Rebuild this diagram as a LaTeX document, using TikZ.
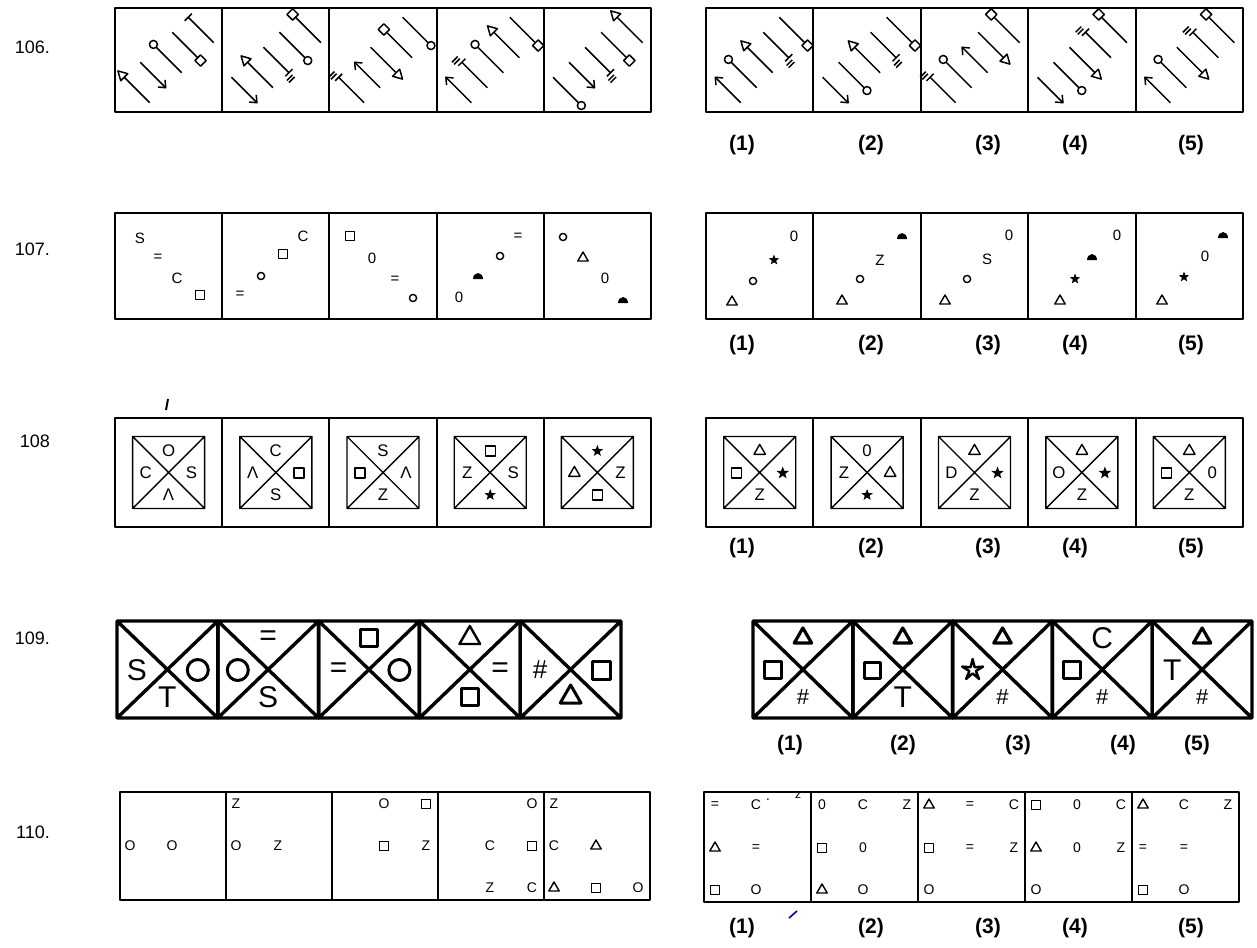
\documentclass[tikz,border=0pt]{standalone}
\usepackage{fontspec}
\setmainfont{Liberation Sans}
\usetikzlibrary{shapes.geometric}

% Marcas en los extremos de las varillas (fila 106).
\newcommand\mkc[1]{\draw (#1*22,0) circle[radius=4];}
\newcommand\mkq[1]{\draw (#1*18,-4) rectangle (#1*26,4);}
\newcommand\mkt[1]{\draw (#1*18,-5) -- (#1*27,0) -- (#1*18,5) -- cycle;}
\newcommand\mka[1]{\draw (#1*12,-5) -- (#1*18,0) -- (#1*12,5);}
\newcommand\mkb[1]{\draw (#1*18,-5) -- (#1*18,5);}
\newcommand\mkd[1]{\draw (#1*18,-5) -- (#1*18,5) (#1*22,-1) -- (#1*22,7) (#1*25,-1) -- (#1*25,7);}
\newcommand\rodcell[2]{%
  \foreach \m/\e [count=\k from 0] in {#2} {
    \begin{scope}[shift={({#1+22+16*\k},{90-15*\k})},rotate=-45]
      \draw (-18,0) -- (18,0);
      \csname mk\m\endcsname{\e}
    \end{scope}}}
% Celda con cuadro y diagonales (fila 108).
\newcommand\xcell[5]{%
  \draw[innerln] (#1-36,436.5) rectangle (#1+36,508.5)
    (#1-36,436.5) -- (#1+36,508.5) (#1-36,508.5) -- (#1+36,436.5);
  \node at (#1,451) #2; \node at (#1-23,473) #3;
  \node at (#1+23,473) #4; \node at (#1,495) #5;}
% Celda con aspa de esquina a esquina (fila 109).
\newcommand\bigxcell[6]{%
  \draw[heavyln] (#1,621) rectangle (#2,718) (#1,621) -- (#2,718) (#1,718) -- (#2,621);
  \node at ({(#1+#2)/2},638) #3; \node at (#1+20,670) #4;
  \node at (#2-20,670) #5; \node at ({(#1+#2)/2},697) #6;}

\begin{document}
\begin{tikzpicture}[x=.5pt,y=-.5pt,line join=round,
    boxln/.style={line width=1pt},
    rodln/.style={line width=.75pt},
    innerln/.style={line width=.7pt},
    heavyln/.style={line width=1.7pt},
    ltr/.style={inner sep=0pt,font=\fontsize{#1}{#1}\selectfont},
    sqr/.style={draw,minimum size=#1,inner sep=0pt,line width=.7pt},
    tri/.style={draw,regular polygon,regular polygon sides=3,minimum size=#1,inner sep=0pt,line width=.7pt},
    starf/.style={star,star points=5,star point ratio=2.4,fill,minimum size=#1,inner sep=0pt},
    ring/.style={draw,circle,minimum size=#1,inner sep=0pt,line width=.7pt},
    num/.style={font=\fontsize{10.5}{12}\selectfont\bfseries},
    rowno/.style={anchor=east,font=\fontsize{9}{11}\selectfont},
    dome/.pic={\fill (5,3) arc[start angle=0,end angle=-180,x radius=5,y radius=6] -- cycle;}]
    \fill[white] (0,0) rectangle (1257,947);
    \useasboundingbox (0,0) rectangle (1257,947);

    % Números de los ejercicios.
    \node[rowno] (n106) at (57,47) {106.};
    \node[rowno] (n107) at (57,249) {107.};
    \node[rowno] (n108) at (57,441) {108};
    \node[rowno] (n109) at (57,638) {109.};
    \node[rowno] (n110) at (57,832) {110.};

    % Rótulos de las respuestas.
    \foreach \y in {145,345,548,928} {
        \foreach \x [count=\i] in {742,871,988,1075,1191}
            \node[num] at (\x,\y) {(\i)};
    }
    \foreach \x [count=\i] in {790,903,1018,1123,1197}
        \node[num] at (\x,745) {(\i)};

    % Fila 106: varillas con marcas.
    \draw[boxln] (115,8) rectangle (651,112) (706,8) rectangle (1243,112);
    \foreach \i in {1,...,4} {
        \draw[boxln] ({115+107.2*\i},8) -- ++(0,104);
        \draw[boxln] ({706+107.4*\i},8) -- ++(0,104);
    }
    \begin{scope}[rodln]
    \rodcell{115}{t/-1,a/1,c/-1,q/1,b/-1}
    \rodcell{222.2}{a/1,t/-1,d/1,c/1,q/-1}
    \rodcell{329.4}{d/-1,a/-1,t/1,q/-1,c/1}
    \rodcell{436.6}{a/-1,d/-1,c/-1,t/-1,q/1}
    \rodcell{543.8}{c/1,a/1,d/1,q/1,t/-1}
    \rodcell{706}{a/-1,c/-1,t/-1,d/1,q/1}
    \rodcell{813.4}{a/1,c/1,t/-1,d/1,q/1}
    \rodcell{920.8}{d/-1,c/-1,a/-1,t/1,q/-1}
    \rodcell{1028.2}{a/1,c/1,t/1,d/-1,q/-1}
    \rodcell{1135.6}{a/-1,c/-1,t/1,d/-1,q/-1}
    \end{scope}

    % Fila 107: símbolos en diagonal.
    \draw[boxln] (115,213) rectangle (651,319) (706,213) rectangle (1243,319);
    \foreach \i in {1,...,4} {
        \draw[boxln] ({115+107.2*\i},213) -- ++(0,106);
        \draw[boxln] ({706+107.4*\i},213) -- ++(0,106);
    }
    \begin{scope}[every node/.style={ltr=7.5pt}]
    \node at (140,238) {S}; \node at (158,258) {=}; \node at (177,278) {C};
    \node[sqr=4.5pt] at (200,295) {};
    \node at (240,295) {=}; \node[ring=3.6pt] at (261,276) {};
    \node[sqr=4.5pt] at (283,254) {}; \node at (303,236) {C};
    \node[sqr=4.5pt] at (350,236) {}; \node at (372,258) {0};
    \node at (395,280) {=}; \node[ring=3.6pt] at (413,298) {};
    \node at (459,297) {0}; \pic at (478,276) {dome};
    \node[ring=3.6pt] at (500,256) {}; \node at (518,237) {=};
    \node[ring=3.6pt] at (563,237) {}; \node[tri=6pt] at (583,258) {};
    \node at (605,278) {0}; \pic at (623,300) {dome};
    % respuestas
    \node[tri=6pt] at (732,302) {}; \node[ring=3.6pt] at (753,281) {};
    \node[starf=5.5pt] at (774,260) {}; \node at (794,236) {0};
    \node[tri=6pt] at (842,301) {}; \node[ring=3.6pt] at (860,279) {};
    \node at (880,260) {Z}; \pic at (902,236) {dome};
    \node[tri=6pt] at (945,301) {}; \node[ring=3.6pt] at (967,279) {};
    \node at (987,259) {S}; \node at (1009,235) {0};
    \node[tri=6pt] at (1060,301) {}; \node[starf=5.5pt] at (1075,279) {};
    \pic at (1092,257) {dome}; \node at (1117,235) {0};
    \node[tri=6pt] at (1162,301) {}; \node[starf=5.5pt] at (1184,277) {};
    \node at (1205,256) {0}; \pic at (1223,235) {dome};
    \end{scope}

    % Fila 108: cuadros con diagonales.
    \draw[boxln] (115,418) rectangle (651,527) (706,418) rectangle (1243,527);
    \foreach \i in {1,...,4} {
        \draw[boxln] ({115+107.2*\i},418) -- ++(0,109);
        \draw[boxln] ({706+107.4*\i},418) -- ++(0,109);
    }
    \draw[line width=1pt] (168,399) -- (166,410);
    \begin{scope}[every node/.style={ltr=8.4pt}]
    \xcell{168.6}{{O}}{{C}}{{S}}{{Λ}}
    \xcell{275.8}{{C}}{{Λ}}{[sqr=5pt]{}}{{S}}
    \xcell{383}{{S}}{[sqr=5pt]{}}{{Λ}}{{Z}}
    \xcell{490.2}{[sqr=5pt]{}}{{Z}}{{S}}{[starf=6pt]{}}
    \xcell{597.4}{[starf=6pt]{}}{[tri=6.6pt]{}}{{Z}}{[sqr=5pt]{}}
    \xcell{759.7}{[tri=6.6pt]{}}{[sqr=5pt]{}}{[starf=6.5pt]{}}{{Z}}
    \xcell{867.1}{{0}}{{Z}}{[tri=6.6pt]{}}{[starf=6pt]{}}
    \xcell{974.5}{[tri=6.6pt]{}}{{D}}{[starf=6.5pt]{}}{{Z}}
    \xcell{1081.9}{[tri=6.6pt]{}}{{O}}{[starf=6.5pt]{}}{{Z}}
    \xcell{1189.3}{[tri=6.6pt]{}}{[sqr=5pt]{}}{{0}}{{Z}}
    \end{scope}

    % Fila 109: aspas gruesas.
    \begin{scope}[every node/.style={ltr=15pt}]
    \bigxcell{117}{217.8}{{}}{{S}}{[ring=10.5pt,line width=1.5pt]{}}{{T}}
    \bigxcell{217.8}{318.6}{{=}}{[ring=10.5pt,line width=1.5pt]{}}{{}}{{S}}
    \bigxcell{318.6}{419.4}{[sqr=8.5pt,line width=1.5pt]{}}{{=}}{[ring=10.5pt,line width=1.5pt]{}}{{}}
    \bigxcell{419.4}{520.2}{[tri=12pt,line width=1.2pt]{}}{{}}{{=}}{[sqr=8.5pt,line width=1.5pt]{}}
    \bigxcell{520.2}{621}{{}}{[ltr=13pt]{\#}}{[sqr=9pt,line width=1.5pt]{}}{[tri=12pt,line width=1.5pt]{}}
    \bigxcell{753}{852.8}{[tri=10pt,line width=1.6pt]{}}{[sqr=8.5pt,line width=1.5pt]{}}{{}}{[ltr=11pt]{\#}}
    \bigxcell{852.8}{952.6}{[tri=10pt,line width=1.6pt]{}}{[sqr=8pt,line width=1.5pt]{}}{{}}{{T}}
    \bigxcell{952.6}{1052.4}{[tri=10pt,line width=1.6pt]{}}{[star,star points=5,star point ratio=3.2,draw,line width=1.2pt,minimum size=11pt]{}}{{}}{[ltr=11pt]{\#}}
    \bigxcell{1052.4}{1152.2}{{C}}{[sqr=8.5pt,line width=1.5pt]{}}{{}}{[ltr=11pt]{\#}}
    \bigxcell{1152.2}{1252}{[tri=10pt,line width=1.6pt]{}}{{T}}{{}}{[ltr=11pt]{\#}}
    \end{scope}

    % Fila 110: símbolos en rejilla.
    \draw[boxln] (120,792) rectangle (650,900) (704,792) rectangle (1239,902);
    \foreach \i in {1,...,4} {
        \draw[boxln] ({120+106*\i},792) -- ++(0,108);
        \draw[boxln] ({704+107*\i},792) -- ++(0,110);
    }
    \draw[blue!70!black,line width=.8pt] (789,918) -- (797,911);
    \begin{scope}[every node/.style={ltr=7pt}]
    \node at (130,846) {O}; \node at (172,846) {O};
    \node at (236,804) {Z}; \node at (236,846) {O}; \node at (278,846) {Z};
    \node at (384,804) {O}; \node[sqr=4.5pt] at (426,804) {};
    \node[sqr=4.5pt] at (384,846) {}; \node at (426,846) {Z};
    \node at (532,804) {O}; \node at (490,846) {C}; \node[sqr=4.5pt] at (532,846) {};
    \node at (490,888) {Z}; \node at (532,888) {C};
    \node at (554,804) {Z}; \node at (554,846) {C}; \node[tri=6pt] at (596,846) {};
    \node[tri=6pt] at (554,888) {}; \node[sqr=4.5pt] at (596,888) {}; \node at (638,888) {O};
    % respuestas
    \node at (715,805) {=}; \node at (756,805) {C}; \node at (768,801) {·};
    \node[ltr=6pt] at (798,795) {z};
    \node[tri=6pt] at (715,848) {}; \node at (756,848) {=};
    \node[sqr=4.5pt] at (715,890) {}; \node at (756,890) {O};
    \node at (822,805) {0}; \node at (863,805) {C}; \node at (907,805) {Z};
    \node[sqr=4.5pt] at (822,848) {}; \node at (863,848) {0};
    \node[tri=6pt] at (822,890) {}; \node at (863,890) {O};
    \node[tri=6pt] at (929,805) {}; \node at (970,805) {=}; \node at (1014,805) {C};
    \node[sqr=4.5pt] at (929,848) {}; \node at (970,848) {=}; \node at (1014,848) {Z};
    \node at (929,890) {O};
    \node[sqr=4.5pt] at (1036,805) {}; \node at (1077,805) {0}; \node at (1121,805) {C};
    \node[tri=6pt] at (1036,848) {}; \node at (1077,848) {0}; \node at (1121,848) {Z};
    \node at (1036,890) {O};
    \node[tri=6pt] at (1143,805) {}; \node at (1184,805) {C}; \node at (1228,805) {Z};
    \node at (1143,848) {=}; \node at (1184,848) {=};
    \node[sqr=4.5pt] at (1143,890) {}; \node at (1184,890) {O};
    \end{scope}
\end{tikzpicture}
\end{document}
